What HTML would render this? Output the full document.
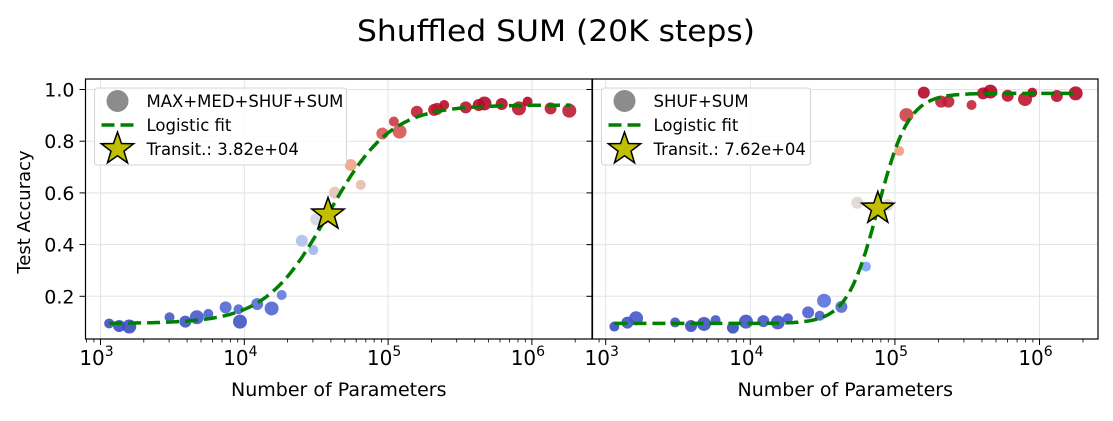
<!DOCTYPE html>
<html><head><meta charset="utf-8"><style>
body{margin:0;background:#fff;width:1113px;height:416px;overflow:hidden;font-family:"Liberation Sans","DejaVu Sans",sans-serif}
svg text{font-family:"DejaVu Sans","Liberation Sans",sans-serif;fill:#000}
</style></head><body>
<svg id="chart" width="1113" height="416" viewBox="0 0 1113 416" xmlns="http://www.w3.org/2000/svg">
<text x="556" y="41" font-size="29" text-anchor="middle" textLength="398" lengthAdjust="spacingAndGlyphs">Shuffled SUM (20K steps)</text>
<text x="0" y="0" font-size="18" text-anchor="middle" transform="translate(30,212) rotate(-90)">Test Accuracy</text>
</svg>
<script>
// Left panel data (log10 params, accuracy, marker size)
const leftLogX = [3.06,3.13,3.20,3.48,3.59,3.67,3.75,3.87,3.96,3.97,4.09,4.19,4.26,4.40,4.48,4.50,4.63,4.74,4.81,4.96,5.04,5.08,5.20,5.32,5.34,5.39,5.54,5.63,5.67,5.79,5.91,5.97,6.13,6.26];
const leftAcc  = [0.095,0.085,0.083,0.119,0.102,0.119,0.132,0.157,0.150,0.102,0.170,0.153,0.205,0.415,0.379,0.498,0.601,0.708,0.631,0.830,0.876,0.837,0.914,0.921,0.925,0.940,0.931,0.940,0.946,0.944,0.927,0.953,0.927,0.918];
const leftSize = [5,6,7,5,6,7,5,6,5,7,6,7,5,6,5,6,6,6,5,6,5,7,6,6,6,5,6,6,7,6,7,5,6,7];
const leftTransition = 38200, leftTransAcc = 0.517;
const leftFit = {lo:0.095, hi:0.94, k:4.6};
const leftLabel = "MAX+MED+SHUF+SUM";
// Right panel data
const rightLogX = [3.06,3.15,3.21,3.48,3.59,3.68,3.76,3.88,3.97,4.09,4.19,4.26,4.40,4.48,4.51,4.63,4.74,4.80,4.95,5.03,5.08,5.20,5.32,5.37,5.53,5.61,5.66,5.78,5.90,5.95,6.12,6.25];
const rightAcc  = [0.083,0.098,0.115,0.099,0.085,0.093,0.108,0.079,0.102,0.104,0.099,0.115,0.138,0.125,0.183,0.159,0.562,0.315,0.553,0.762,0.901,0.988,0.953,0.953,0.940,0.985,0.992,0.976,0.963,0.988,0.975,0.985];
const rightSize = [5,6,7,5,6,7,5,6,7,6,7,5,6,5,7,6,6,5,6,5,7,6,6,6,5,6,7,6,7,5,6,7];
const rightTransition = 76200, rightTransAcc = 0.540;
const rightFit = {lo:0.095, hi:0.985, k:9.4};
const rightLabel = "SHUF+SUM";
const yTicks = [0.2,0.4,0.6,0.8,1.0];
const xDecades = [3,4,5,6];

const NS="http://www.w3.org/2000/svg";
const svg=document.getElementById('chart');
function mk(tag,attrs,parent){const e=document.createElementNS(NS,tag);for(const k in attrs)e.setAttribute(k,attrs[k]);(parent||svg).appendChild(e);return e;}
function coolwarm(t){
  const st=[[0,59,76,192],[0.25,124,159,249],[0.5,221,221,221],[0.75,244,154,123],[1,180,4,38]];
  t=Math.max(0,Math.min(1,t));
  for(let i=0;i<4;i++){const a=st[i],b=st[i+1];if(t<=b[0]){const f=(t-a[0])/(b[0]-a[0]);return `rgb(${Math.round(a[1]+f*(b[1]-a[1]))},${Math.round(a[2]+f*(b[2]-a[2]))},${Math.round(a[3]+f*(b[3]-a[3]))})`;}}
  return 'rgb(180,4,38)';
}
function star(cx,cy,R){const r=R*0.4;let p=[];for(let i=0;i<10;i++){const a=-Math.PI/2+i*Math.PI/5;const rr=i%2?r:R;p.push((cx+rr*Math.cos(a)).toFixed(1)+','+(cy+rr*Math.sin(a)).toFixed(1));}return p.join(' ');}

function panel(opt){
  const {x0,x1,y0,y1,dec3,pxDec,logX,acc,size,trans,transAcc,fit,label,showY,name}=opt;
  const g=mk('g',{});
  
  
  const X=l=>dec3+(l-3)*pxDec;
  const Y=v=>348-v*258.5;
  const xmin=3+(x0-dec3)/pxDec, xmax=3+(x1-dec3)/pxDec;
  xDecades.forEach(d=>{const gl=mk('line',{x1:X(d),x2:X(d),y1:y0,y2:y1,stroke:'#e3e3e3','stroke-width':1},g);});
  yTicks.forEach(v=>{const gl=mk('line',{x1:x0,x2:x1,y1:Y(v),y2:Y(v),stroke:'#e3e3e3','stroke-width':1},g);});
  const mn=Math.min(...acc),mx=Math.max(...acc);
  logX.forEach((l,i)=>{const c=mk('circle',{cx:X(l),cy:Y(acc[i]),r:size[i],fill:coolwarm((acc[i]-mn)/(mx-mn)),'fill-opacity':0.9},g);});
  const mid=Math.log10(trans);let pts=[];
  for(let l=3.06;l<=6.27;l+=0.01){const v=fit.lo+(fit.hi-fit.lo)/(1+Math.exp(-fit.k*(l-mid)));pts.push(X(l).toFixed(1)+','+Y(v).toFixed(1));}
  const fl=mk('polyline',{points:pts.join(' '),fill:'none',stroke:'#008000','stroke-width':3.5,'stroke-dasharray':'13,6'},g);
  
  const st=mk('polygon',{points:star(X(mid),Y(transAcc),17),fill:'#bfbf00',stroke:'#000','stroke-width':1.5},g);
  
  const fr=mk('rect',{x:x0,y:y0,width:x1-x0,height:y1-y0,fill:'none',stroke:'#000','stroke-width':1.2},g);
  
  for(let d=2;d<=6;d++){for(let m=1;m<10;m++){const l=d+Math.log10(m);if(l<xmin||l>xmax)continue;const major=m===1;mk('line',{x1:X(l),x2:X(l),y1:y1,y2:y1+(major?6:3.5),stroke:'#000','stroke-width':major?1:0.8},g);}}
  xDecades.forEach(d=>{const t=mk('text',{x:X(d)-4,y:y1+26,'font-size':20,'text-anchor':'middle'},g);t.textContent='10';const s=mk('tspan',{dy:-9,'font-size':14},t);s.textContent=String(d);});
  const xt=mk('text',{x:(x0+x1)/2,y:396,'font-size':19,'text-anchor':'middle'},g);
  xt.textContent='Number of Parameters';
  yTicks.forEach(v=>{mk('line',{x1:x0-6,x2:x0,y1:Y(v),y2:Y(v),stroke:'#000','stroke-width':1},g);
    if(showY){const t=mk('text',{x:x0-11,y:Y(v)+7,'font-size':19,'text-anchor':'end'},g);t.textContent=v.toFixed(1);}});
  const lg=mk('g',{},g);
  const lw=label.length>10?252:209;
  mk('rect',{x:x0+9,y:y0+9,width:lw,height:77,rx:3,fill:'#fff','fill-opacity':0.8,stroke:'#d5d5d5','stroke-width':1},lg);
  mk('circle',{cx:x0+32,cy:y0+22,r:11,fill:'#808080','fill-opacity':0.9},lg);
  mk('line',{x1:x0+16,x2:x0+50,y1:y0+46,y2:y0+46,stroke:'#008000','stroke-width':3.5,'stroke-dasharray':'13,6'},lg);
  mk('polygon',{points:star(x0+32,y0+70,17),fill:'#bfbf00',stroke:'#000','stroke-width':1.5},lg);
  [label,'Logistic fit','Transit.: '+trans.toExponential(2).replace('e+','e+0')].forEach((s,i)=>{const t=mk('text',{x:x0+61,y:y0+28+i*24,'font-size':16.5},lg);t.textContent=s;});
}
panel({x0:85.5,x1:592,y0:79,y1:339,dec3:100.5,pxDec:143.8,logX:leftLogX,acc:leftAcc,size:leftSize,trans:leftTransition,transAcc:leftTransAcc,fit:leftFit,label:leftLabel,showY:true,name:'left-panel'});
panel({x0:592.5,x1:1098,y0:79,y1:339,dec3:605.7,pxDec:144.6,logX:rightLogX,acc:rightAcc,size:rightSize,trans:rightTransition,transAcc:rightTransAcc,fit:rightFit,label:rightLabel,showY:false,name:'right-panel'});
</script>
</body></html>
